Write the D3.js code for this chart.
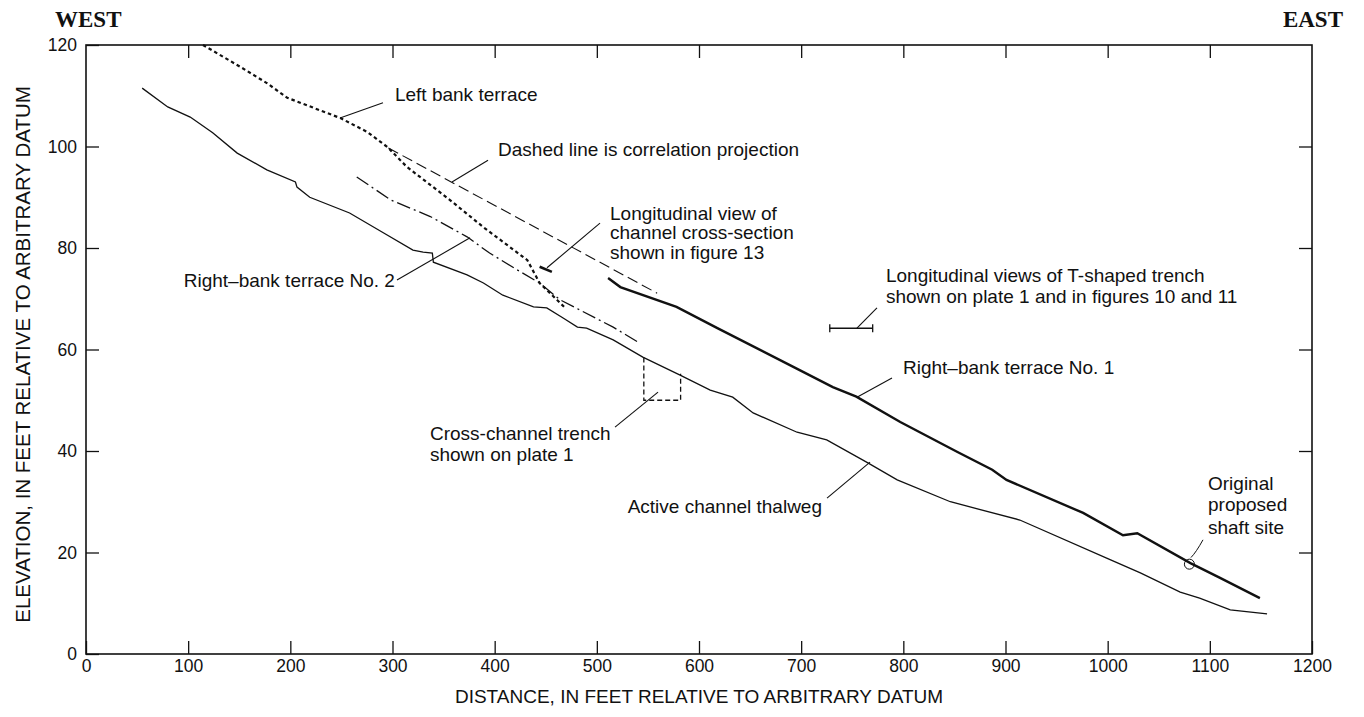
<!DOCTYPE html>
<html><head><meta charset="utf-8">
<script src="https://cdn.jsdelivr.net/npm/d3@7"></script>
<style>
body{margin:0;background:#fff;}
svg text{font-family:"Liberation Sans",Arial,sans-serif;fill:#111;}
</style></head>
<body><svg id="c" width="1364" height="717"></svg>
<script>
// ---- data (feet) ----
const xTicks = [0,100,200,300,400,500,600,700,800,900,1000,1100,1200];
const yTicks = [0,20,40,60,80,100,120];

const thalwegX = [55,80,102,124,148,177,205,206.5,219,258,291,320,330,339,340,373,389,408,438,451,467,481,490,516,545,581,611,633,653,696,725,764,794,846,914,999,1032,1071,1090,1120,1156];
const thalwegY = [111.5,107.8,105.8,102.7,98.7,95.4,93.0,92.0,90.0,86.9,83.0,79.6,79.2,79.0,77.2,74.7,73.1,70.7,68.4,68.2,66.2,64.4,64.2,61.9,58.5,55.0,52.0,50.6,47.5,43.7,42.2,37.8,34.3,30.0,26.4,18.9,16.0,12.2,11.0,8.7,7.9];

const terrace1X = [511,523,578,618,699,731,754,797,853,887,901,976,1015,1029,1081,1110,1149];
const terrace1Y = [74.1,72.3,68.4,64.2,55.9,52.6,50.7,45.7,39.8,36.3,34.3,27.8,23.4,23.8,17.9,15.0,11.0];

const leftBankX = [114.5,151,177,197,249,275,295,314,356,389,432,444,469];
const leftBankY = [120,115.7,112.5,109.6,105.6,102.9,99.9,96.0,89.5,84.1,77.6,73.1,68.2];

const terrace2X = [265,298,337,373,395,422,444,464,516,540];
const terrace2Y = [94.0,89.5,86.2,82.2,79.0,75.7,73.1,69.8,64.4,61.5];

const correlationX = [296,559];
const correlationY = [99.7,71.1];

const trenchX = [546,582];
const trenchTopY = [58.4,55.2];
const trenchBottomY = 50;

const tTrenchX = [728,770];
const tTrenchY = 64.2;

const crossSectionX = [444,456];
const crossSectionY = [76.3,75.3];

const shaftSite = [1080,17.7];

// annotations: text lines, anchor (data units), leader (data units)
const annotations = [
  {lines:["Left bank terrace"], x:302.4, y:[110.2], anchor:"start", leader:[[248.6,105.6],[290.7,108.6]]},
  {lines:["Dashed line is correlation projection"], x:403.3, y:[99.5], anchor:"start", leader:[[358.2,93.0],[393.5,97.3]]},
  {lines:["Longitudinal view of","channel cross-section","shown in figure 13"], x:512.9, y:[86.9,83.0,79.2], anchor:"start", leader:[[451.2,76.1],[503.1,84.9]]},
  {lines:["Right\u2013bank terrace No. 2"], x:302.4, y:[73.7], anchor:"end", leader:[[304.4,73.7],[375.9,82.0]]},
  {lines:["Cross-channel trench","shown on plate 1"], x:336.7, y:[43.5,39.4], anchor:"start", leader:[[517.8,44.7],[559.9,51.6]]},
  {lines:["Longitudinal views of T-shaped trench","shown on plate 1 and in figures 10 and 11"], x:783.0, y:[74.7,70.5], anchor:"start", leader:[[754.6,64.2],[774.2,68.2]]},
  {lines:["Right\u2013bank terrace No. 1"], x:799.7, y:[56.4], anchor:"start", leader:[[754.6,50.6],[788.9,54.4]]},
  {lines:["Active channel thalweg"], x:720.4, y:[29.0], anchor:"end", leader:[[725.3,30.7],[767.4,37.8]]},
  {lines:["Original","proposed","shaft site"], x:1098.2, y:[33.7,29.4,25.0], anchor:"start", leader:[[1081.5,19.0],[1093.3,22.5]]}
];

// ---- drawing ----
const svg = d3.select("#c");
const x = d3.scaleLinear().domain([0,1200]).range([86,1312]);
const y = d3.scaleLinear().domain([0,120]).range([654,45]);
const zip = (xs,ys)=>xs.map((v,i)=>[v,ys[i]]);
const line = d3.line().x(d=>x(d[0])).y(d=>y(d[1]));

// frame
svg.append("rect").attr("x",x(0)).attr("y",y(120)).attr("width",x(1200)-x(0)).attr("height",y(0)-y(120))
  .attr("fill","none").attr("stroke","#111").attr("stroke-width",1.6);

const tl = 13;
const axB = svg.append("g").attr("transform",`translate(0,${y(0)})`)
  .call(d3.axisBottom(x).tickValues(xTicks).tickSize(-tl).tickPadding(6).tickFormat(d3.format("d")));
const axT = svg.append("g").attr("transform",`translate(0,${y(120)})`)
  .call(d3.axisTop(x).tickValues(xTicks.slice(1,-1)).tickSize(-tl).tickFormat(""));
const axL = svg.append("g").attr("transform",`translate(${x(0)},0)`)
  .call(d3.axisLeft(y).tickValues(yTicks).tickSize(-tl).tickPadding(9).tickFormat(d3.format("d")));
const axR = svg.append("g").attr("transform",`translate(${x(1200)},0)`)
  .call(d3.axisRight(y).tickValues(yTicks.slice(1,-1)).tickSize(-tl).tickFormat(""));
[axB,axT,axL,axR].forEach(g=>{
  g.select(".domain").remove();
  g.selectAll(".tick line").attr("stroke","#111").attr("stroke-width",1.3);
  g.selectAll("text").attr("font-size",17.5).attr("fill","#111").attr("font-family","Liberation Sans, Arial, sans-serif");
});

// axis titles
svg.append("text").attr("x",(x(0)+x(1200))/2).attr("y",703).attr("text-anchor","middle")
  .attr("font-size",19).text("DISTANCE, IN FEET RELATIVE TO ARBITRARY DATUM");
svg.append("text").attr("transform",`translate(30,${(y(0)+y(120))/2+5}) rotate(-90)`).attr("text-anchor","middle")
  .attr("font-size",20.5).text("ELEVATION, IN FEET RELATIVE TO ARBITRARY DATUM");

// WEST / EAST
svg.append("text").attr("x",55).attr("y",27)
  .attr("font-weight","bold").attr("font-size",23).style("font-family","Liberation Serif").text("WEST");
svg.append("text").attr("x",1343).attr("y",27).attr("text-anchor","end")
  .attr("font-weight","bold").attr("font-size",23).style("font-family","Liberation Serif").text("EAST");

const plot = svg.append("g").attr("fill","none").attr("stroke","#111");

// thalweg
plot.append("path").attr("d",line(zip(thalwegX,thalwegY))).attr("stroke-width",1.3);
// right-bank terrace No.1
plot.append("path").attr("d",line(zip(terrace1X,terrace1Y))).attr("stroke-width",2.4);
// left bank terrace (dotted)
plot.append("path").attr("d",line(zip(leftBankX,leftBankY))).attr("stroke-width",2.2).attr("stroke-dasharray","3.5,3");
// right-bank terrace No.2 (dash-dot)
plot.append("path").attr("d",line(zip(terrace2X,terrace2Y))).attr("stroke-width",1.3).attr("stroke-dasharray","14,4,2,4");
// correlation projection (dashed)
plot.append("path").attr("d",line(zip(correlationX,correlationY))).attr("stroke-width",1.1).attr("stroke-dasharray","11,5");
// cross-channel trench
plot.append("path").attr("d",line([[trenchX[0],trenchTopY[0]],[trenchX[0],trenchBottomY],[trenchX[1],trenchBottomY],[trenchX[1],trenchTopY[1]]]))
  .attr("stroke-width",1.3).attr("stroke-dasharray","5,3");
// T-shaped trench marker
plot.append("path").attr("d",line(zip(tTrenchX,[tTrenchY,tTrenchY]))).attr("stroke-width",1.6);
tTrenchX.forEach(v=>{
  plot.append("line").attr("x1",x(v)).attr("x2",x(v)).attr("y1",y(tTrenchY)-4).attr("y2",y(tTrenchY)+4).attr("stroke-width",1.3);
});
// channel cross-section marker
plot.append("path").attr("d",line(zip(crossSectionX,crossSectionY))).attr("stroke-width",2.6);
// shaft site
plot.append("circle").attr("cx",x(shaftSite[0])).attr("cy",y(shaftSite[1])).attr("r",5).attr("stroke-width",1);

// annotations
annotations.forEach(a=>{
  const L = a.leader;
  if (a.lines[0]==="Original") {
    const p0=[x(L[0][0]),y(L[0][1])], p1=[x(L[1][0]),y(L[1][1])];
    plot.append("path").attr("d",`M${p0[0]},${p0[1]} Q${p0[0]+5},${p0[1]-5} ${p1[0]},${p1[1]}`).attr("stroke-width",1);
  } else {
    plot.append("path").attr("d",line(L)).attr("stroke-width",1.1);
  }
  a.lines.forEach((t,i)=>{
    svg.append("text").attr("x",x(a.x)).attr("y",y(a.y[i])).attr("dy","0.35em")
      .attr("text-anchor",a.anchor).attr("font-size",19).text(t);
  });
});
</script></body></html>
